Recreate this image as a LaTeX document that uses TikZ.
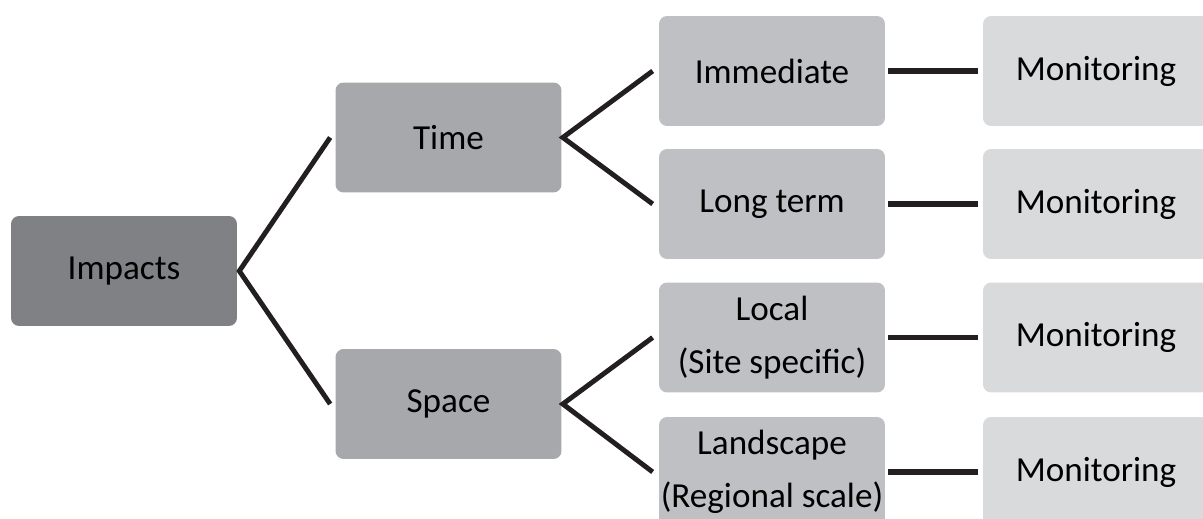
\documentclass[tikz,border=0pt]{standalone}
\usepackage{fontspec}
\setmainfont{Carlito}
\definecolor{impgray}{HTML}{808185}
\definecolor{midgray}{HTML}{A7A8AB}
\definecolor{subgray}{HTML}{BFC0C3}
\definecolor{mongray}{HTML}{D9DADC}
\definecolor{linkblack}{HTML}{231F20}
\tikzset{
  box/.style={rounded corners=0.16cm, minimum width=4.52cm, minimum height=2.2cm,
    inner sep=0pt, align=center, font=\fontsize{20}{30}\selectfont},
  impbox/.style={box, fill=impgray},
  midbox/.style={box, fill=midgray},
  subbox/.style={box, fill=subgray},
  monbox/.style={box, fill=mongray},
  link/.style={draw=linkblack, line width=2.8pt},
  monlink/.style={draw=linkblack, line width=3.4pt, shorten <=0.06cm, shorten >=0.1cm}
}
\begin{document}
\begin{tikzpicture}[x=0.02cm, y=-0.02cm]
      \useasboundingbox (0,0) rectangle (1203,519);
      \clip (0,0) rectangle (1203,519);

      \node [impbox] (impacts) at (124, 271) {Impacts};

      \node [midbox] (time) at (448.5, 137.5) {Time};
      \node [midbox] (space) at (448.5, 404) {Space};

      \node [subbox] (immediate) at (772, 71) {Immediate};
      \node [subbox] (longterm) at (772, 204) {Long term};
      \node [subbox] (local) at (772, 337.5) {Local\\(Site specific)};
      \node [subbox] (landscape) at (772, 472) {Landscape\\(Regional scale)};

      \node [monbox] (mon1) at (1096, 71) {Monitoring};
      \node [monbox] (mon2) at (1096, 204) {Monitoring};
      \node [monbox] (mon3) at (1096, 337.5) {Monitoring};
      \node [monbox] (mon4) at (1096, 472) {Monitoring};

      % branches
      \draw [link] ([xshift=-0.1cm]time.west) -- ([xshift=0.04cm]impacts.east) -- ([xshift=-0.1cm]space.west);
      \draw [link] ([xshift=-0.12cm]immediate.west) -- ([xshift=0.02cm]time.east) -- ([xshift=-0.12cm]longterm.west);
      \draw [link] ([xshift=-0.12cm]local.west) -- ([xshift=0.02cm]space.east) -- ([xshift=-0.12cm]landscape.west);

      % monitoring links
      \foreach \a/\b in {immediate/mon1, longterm/mon2, local/mon3, landscape/mon4}
        \draw [monlink] (\a.east) -- (\b.west);
\end{tikzpicture}
\end{document}
